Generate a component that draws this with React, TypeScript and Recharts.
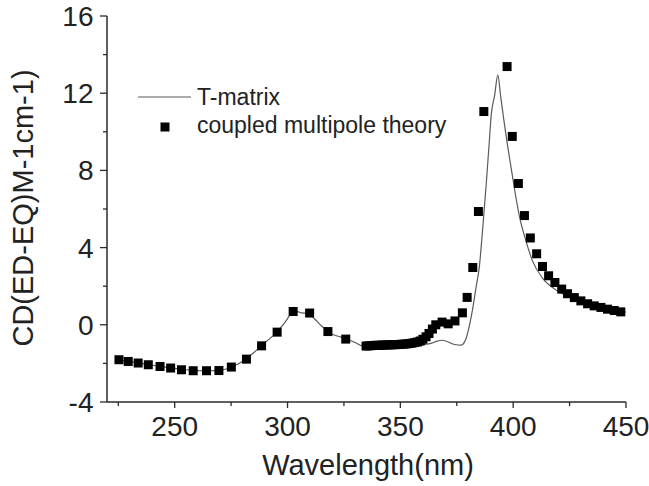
import { ComposedChart, Line, Scatter, XAxis, YAxis, Legend } from "recharts";

// T-matrix curve (wavelength in nm, CD value)
const tMatrixNm = [
  225, 230, 235, 240, 245, 250, 255, 260, 265, 270, 275, 280, 285, 290, 295, 299, 302, 304, 306, 309,
  312, 315, 318, 322, 326, 330, 333, 335, 340, 345, 350, 355, 360, 364, 366, 368.5, 371, 374, 377, 379,
  380.5, 382, 383.5, 385, 386.5, 388, 389.3, 390.3, 391.8, 393.2, 394.5, 396, 397.5, 399, 400.5, 402.7,
  405.4, 408.6, 413, 418.9, 426.3, 432, 438, 444, 450,
];
const tMatrixCd = [
  -1.8, -1.9, -2.0, -2.09, -2.18, -2.26, -2.33, -2.37, -2.38, -2.35, -2.2, -1.9, -1.45, -0.92, -0.42, 0.15, 0.62, 0.7, 0.62, 0.6,
  0.3, -0.05, -0.38, -0.58, -0.72, -0.92, -1.1, -1.14, -1.11, -1.1, -1.09, -1.07, -1.03, -0.95, -0.86, -0.8, -0.88, -1.02, -1.05, -0.75,
  -0.1, 0.8, 1.9, 3.0, 5.0, 7.2, 9.3, 10.9, 11.9, 12.95, 11.8, 10.5, 9.3, 8.2, 7.1, 5.66,
  4.45, 3.3, 2.42, 1.81, 1.38, 1.13, 0.95, 0.8, 0.66,
];

// coupled multipole theory points
const cmtNm = [
  225.3, 229.4, 233.8, 238.3, 243.5, 248.2, 253, 258.2, 264.1, 269.6, 275.1, 281.8, 288.5, 295.4, 302.5, 309.8, 317.9, 325.8,
  334.8, 336, 337.2, 338.4, 339.6, 340.8, 342, 343.2, 344.4, 345.6, 346.8, 348, 349.2, 350.4, 351.6, 352.8, 354, 355.2, 356.4,
  357.6, 358.8, 360, 361.4, 362.7, 364.2, 365.7, 368.5, 371.2, 374.2, 377.5, 379.6, 382.1, 384.6, 387, 397.3, 399.6, 402.3,
  405, 407.6, 410.4, 413, 415.7, 418.5, 421.5, 424.1, 427.1, 430, 433, 435.9, 438.9, 441.8, 444.8, 447.7,
];
const cmtCd = [
  -1.81, -1.9, -1.98, -2.07, -2.16, -2.24, -2.33, -2.38, -2.38, -2.37, -2.19, -1.78, -1.09, -0.38, 0.69, 0.61, -0.35, -0.74,
  -1.1, -1.09, -1.08, -1.07, -1.06, -1.06, -1.05, -1.05, -1.04, -1.04, -1.03, -1.03, -1.02, -1.01, -1.0, -0.99, -0.97, -0.95, -0.92,
  -0.89, -0.84, -0.75, -0.62, -0.45, -0.22, 0.0, 0.14, 0.05, 0.2, 0.62, 1.42, 2.97, 5.87, 11.05, 13.38, 9.76, 7.32,
  5.66, 4.5, 3.68, 3.02, 2.54, 2.19, 1.85, 1.61, 1.41, 1.24, 1.09, 0.98, 0.9, 0.81, 0.74, 0.67,
];

const xTicks = [225, 250, 275, 300, 325, 350, 375, 400, 425, 450];
const yTicks = [-4, -2, 0, 2, 4, 6, 8, 10, 12, 14, 16];

const tMatrixData = tMatrixNm.map((x, i) => ({ x, y: tMatrixCd[i] }));
const cmtData = cmtNm.map((x, i) => ({ x, y: cmtCd[i] }));

const FONT = "'Liberation Sans', Arial, sans-serif";
const AXIS = "#2a2a2a";

const BottomTick = (props: any) => {
  const { x, y, payload } = props;
  const major = payload.value % 50 === 0;
  return (
    <g>
      <line x1={x} x2={x} y1={y} y2={y + (major ? 6 : 4)} stroke={AXIS} strokeWidth={1.3} />
      {major && (
        <text x={x} y={y + 34} textAnchor="middle" fontSize={28} fontFamily={FONT} fill="#222">
          {payload.value}
        </text>
      )}
    </g>
  );
};

const TopTick = (props: any) => {
  const { x, y, payload } = props;
  const major = payload.value % 50 === 0;
  return <line x1={x} x2={x} y1={y} y2={y - (major ? 6 : 3)} stroke={AXIS} strokeWidth={1.3} />;
};

const LeftTick = (props: any) => {
  const { x, y, payload } = props;
  const major = payload.value % 4 === 0;
  return (
    <g>
      <line x1={x} x2={x - (major ? 7 : 4)} y1={y} y2={y} stroke={AXIS} strokeWidth={1.3} />
      {major && (
        <text x={x - 13.5} y={y + 10} textAnchor="end" fontSize={28} fontFamily={FONT} fill="#222">
          {payload.value}
        </text>
      )}
    </g>
  );
};

const SquareDot = (props: any) => {
  const { cx, cy } = props;
  return <rect x={cx - 4.5} y={cy - 4.5} width={9} height={9} fill="#000" />;
};

const LegendBox = () => (
  <svg width={330} height={70}>
    <line x1={8} x2={61} y1={17} y2={17} stroke="#5a5a5a" strokeWidth={1.2} />
    <text x={67} y={25} fontSize={23} fontFamily={FONT} fill="#222">T-matrix</text>
    <rect x={30.5} y={42.5} width={9} height={9} fill="#000" />
    <text x={67} y={53} fontSize={23} fontFamily={FONT} fill="#222">coupled multipole theory</text>
  </svg>
);

export default function App() {
  return (
    <div style={{ position: "fixed", left: 0, top: 0, width: 649, height: 486, background: "#fff" }}>
      <ComposedChart width={649} height={486} margin={{ top: 16, right: 23, bottom: 44, left: 47 }}>
        <XAxis
          dataKey="x"
          type="number"
          domain={[220, 450]}
          allowDataOverflow
          ticks={xTicks}
          interval={0}
          tickSize={0}
          tickMargin={0}
          height={40}
          axisLine={{ stroke: AXIS, strokeWidth: 1.5 }}
          tickLine={false}
          tick={BottomTick}
          label={() => (
            <text x={368} y={475} textAnchor="middle" fontSize={29} fontFamily={FONT} fill="#222">
              Wavelength(nm)
            </text>
          )}
        />
        <XAxis
          xAxisId="top"
          orientation="top"
          type="number"
          domain={[220, 450]}
          allowDataOverflow
          ticks={xTicks}
          interval={0}
          tickSize={0}
          tickMargin={0}
          height={0}
          axisLine={{ stroke: AXIS, strokeWidth: 1.5 }}
          tickLine={false}
          tick={TopTick}
        />
        <YAxis
          type="number"
          domain={[-4, 16]}
          allowDataOverflow
          ticks={yTicks}
          interval={0}
          tickSize={0}
          tickMargin={0}
          width={60}
          axisLine={{ stroke: AXIS, strokeWidth: 1.5 }}
          tickLine={false}
          tick={LeftTick}
          label={() => (
            <text
              x={33}
              y={208}
              transform="rotate(-90 33 208)"
              textAnchor="middle"
              fontSize={29}
              fontFamily={FONT}
              fill="#222"
            >
              CD(ED-EQ)M-1cm-1)
            </text>
          )}
        />
        <YAxis
          yAxisId="right"
          orientation="right"
          type="number"
          domain={[-4, 16]}
          width={0}
          tick={false}
          tickLine={false}
          axisLine={{ stroke: AXIS, strokeWidth: 1.5 }}
        />
        <Legend
          layout="vertical"
          align="center"
          verticalAlign="middle"
          wrapperStyle={{ left: 130, top: 80, width: 330, height: 70 }}
          content={LegendBox}
        />
        <Line
          data={tMatrixData}
          dataKey="y"
          type="monotone"
          stroke="#5a5a5a"
          strokeWidth={1.2}
          dot={false}
          activeDot={false}
          isAnimationActive={false}
        />
        <Scatter data={cmtData} dataKey="y" shape={SquareDot} isAnimationActive={false} />
      </ComposedChart>
    </div>
  );
}
